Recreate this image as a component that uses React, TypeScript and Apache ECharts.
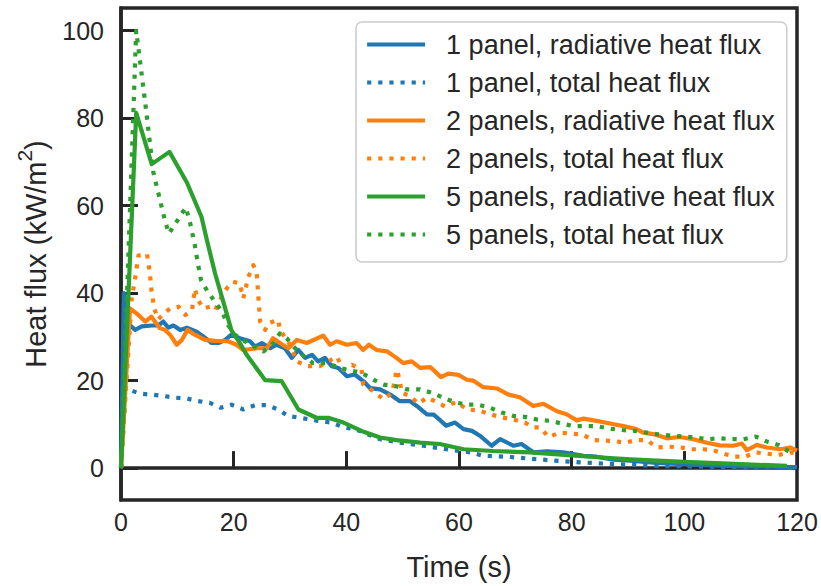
import React, { useEffect, useRef } from "react";
import * as echarts from "echarts";

// Time (s) / heat flux (kW/m²) pairs
const onePanelRadiative: [number, number][] = [
  [0, 0], [0.5, 40], [1.3, 33], [2.5, 31.6], [3.7, 32.4], [5.5, 32.6], [6.6, 32.6], [7.5, 33.5],
  [8.4, 32.1], [9.3, 32.6], [10.5, 31.6], [11.7, 32.1], [13.4, 31.2], [14.6, 30.1], [16.1, 28.6],
  [17.3, 28.6], [18.5, 29.3], [19.6, 30.5], [21.1, 29.7], [22.9, 29], [23.8, 27.8], [25, 28.6],
  [26.5, 27.4], [27.6, 28.2], [29.1, 27.4], [30.3, 25.2], [31.5, 27], [32.7, 25.2], [33.9, 25.9],
  [35, 24.4], [36.2, 25.2], [37.4, 23.3], [38.6, 22.9], [40.1, 21], [41.5, 21.4], [43, 19.9],
  [44.2, 18.3], [46, 18], [47.8, 16.8], [49.5, 15.3], [51.3, 15.3], [52.5, 14.2], [54.3, 12.3],
  [55.5, 12.2], [56.6, 11], [57.7, 9.7], [59.3, 10.4], [60.8, 8.9], [62.3, 8.5], [63.7, 7.4],
  [65.8, 5.1], [67.3, 6.6], [69.7, 5.1], [71.1, 5.5], [73.2, 3.6], [75.6, 3.8], [78.5, 3.6],
  [82.1, 2.8], [84.4, 2.6], [87.4, 1.9], [90.4, 1.7], [95, 1.2], [100, 0.9], [105, 0.6],
  [110, 0.4], [115, 0.3], [120, 0.2],
];

const onePanelTotal: [number, number][] = [
  [0, 0], [0.8, 18.5], [1.3, 18], [3.4, 17], [5.4, 16.8], [7.5, 16.5], [9.6, 16.1], [11.7, 15.9],
  [13.7, 15.3], [15.8, 14.9], [17.7, 13.8], [19.6, 14.5], [21.7, 13.4], [23.8, 14.4], [25.9, 14.4],
  [27.9, 13.4], [29.7, 11.9], [31.8, 11.5], [35, 10.8], [37.4, 10.4], [39.5, 9.3], [41.5, 8.9],
  [43.5, 7.9], [46, 6.6], [49.5, 5.8], [53.7, 5.1], [57.8, 4.3], [62, 3.6], [64.3, 2.8],
  [68.5, 2.6], [70.2, 2.4], [77, 1.7], [81.5, 1.3], [88, 0.9], [94.5, 0.5], [101, 0.4],
  [108, 0.2], [120, 0.1],
];

const twoPanelsRadiative: [number, number][] = [
  [0, 0], [1.6, 36.5], [3.1, 35], [4.3, 33.5], [5.4, 34.6], [6.9, 32], [7.8, 31.6], [8.7, 30.5],
  [9.9, 28.2], [10.8, 29.3], [11.8, 31.6], [13.1, 30.5], [14.9, 29.3], [16.7, 29.1], [19, 29],
  [20.5, 28.2], [21.7, 27], [24.1, 27.4], [25.9, 27.4], [27, 29.7], [28.2, 28.6], [29.7, 27.4],
  [31.2, 29.3], [33, 28.6], [35.9, 30.3], [37.1, 28.2], [38.3, 29], [40.1, 28.2], [41.8, 28.6],
  [43, 27], [44, 28.2], [45.4, 27], [47.2, 26.7], [48.9, 25.2], [50.1, 24], [51.6, 24.4],
  [53.1, 22.9], [54.9, 23.1], [56.8, 20.8], [58.1, 21.6], [59.9, 21.3], [61.4, 20.2], [62.5, 20],
  [64.3, 18.5], [66.7, 18.2], [68.8, 16.8], [70.8, 16.2], [73.2, 14.2], [75, 14.7], [77.4, 13],
  [79.1, 12.3], [80.9, 10.9], [82.1, 11.3], [84.4, 10.8], [86.8, 10.2], [89.2, 9.6], [91.5, 8.9],
  [92.7, 8.1], [94.8, 7.7], [96.9, 6.8], [99.2, 7.1], [101.6, 6.6], [104, 5.8], [106.3, 5.2],
  [108.7, 5.1], [110.2, 5.6], [111.1, 4.1], [112.9, 5.3], [114.6, 4.7], [117, 4.3], [118.8, 4.7],
  [120, 4.0],
];

const twoPanelsTotal: [number, number][] = [
  [0, 0], [1.9, 38.8], [2.5, 43.3], [3.1, 48.6], [4.6, 49], [5.1, 44.9], [5.4, 40.7], [5.9, 36.5],
  [6.6, 34], [7.8, 35.5], [8.7, 36.5], [10.2, 36.9], [11.4, 35], [12.6, 36.1], [13.1, 41],
  [13.7, 38.4], [14.6, 36.5], [15.8, 36.9], [16.7, 36.1], [17.3, 37.7], [18.2, 40], [19, 41.5],
  [19.9, 42.6], [21.1, 42.2], [21.7, 38.8], [22.6, 43.7], [23.5, 46.4], [24.1, 44.5], [24.4, 38.8],
  [24.7, 33.5], [25.6, 31.6], [26.1, 33.1], [27.9, 33.9], [28.2, 31.6], [30, 28.2], [31.2, 24.4],
  [33, 23.3], [35.3, 23.3], [38.3, 25.5], [39.5, 22.5], [41, 23.6], [42.7, 22.5], [43, 19.1],
  [44.8, 17.6], [46.6, 15.7], [48.1, 17.2], [48.6, 19.9], [48.9, 22.5], [49.5, 20.2], [49.8, 17.2],
  [51.3, 16.5], [52.8, 14.7], [54.3, 16.1], [55.7, 15.3], [57.5, 14.1], [59.6, 15.1], [61.4, 13.4],
  [63.5, 13.2], [65.5, 12.3], [67.6, 11.6], [69.7, 11.1], [71.7, 10.4], [73.2, 9.3], [74.4, 9.3],
  [75.9, 7.1], [77.9, 8.1], [79.7, 7.9], [81.8, 7.7], [83.9, 6.4], [87.4, 6.2], [89.5, 5.8],
  [91.5, 6.4], [93.4, 6.4], [95.1, 4.7], [97.2, 4.9], [99.4, 4.7], [101.3, 4.3], [103.4, 4.3],
  [105.1, 4.1], [106.9, 3.3], [109, 2.6], [110.8, 2.6], [112.6, 3.6], [114.6, 3.3], [116.7, 3.0],
  [118.8, 3.6], [120, 3.3],
];

const fivePanelsRadiative: [number, number][] = [
  [0, 0], [2.7, 81.2], [5.45, 69.5], [8.6, 72.3], [11.7, 65.3], [14.3, 57.4], [15.2, 52.4],
  [16.7, 44.5], [18.5, 36.5], [19.6, 31.5], [21, 28.8], [22.3, 25.9], [25.6, 20.1], [28.5, 19.9],
  [31.5, 13.4], [34.7, 11.5], [36.8, 11.5], [39.5, 10.4], [42.7, 8.5], [46, 7], [48.9, 6.4],
  [53.1, 5.8], [56.6, 5.5], [60.8, 4.3], [66, 3.9], [72.6, 3.6], [80, 2.9], [86.8, 2.3],
  [90.4, 2.0], [100, 1.4], [110, 0.9], [118.2, 0.5],
];

const fivePanelsTotal: [number, number][] = [
  [0, 0], [2.7, 100], [4.3, 83.5], [4.85, 77.4], [5.75, 67.6], [6.6, 63], [7.8, 56.6], [8.5, 53.6],
  [9.6, 55.8], [11.5, 59.6], [12.25, 56.2], [13.1, 51], [13.7, 46.4], [14.2, 43], [15.4, 40.3],
  [16.7, 38], [17.9, 35.8], [19, 32.7], [20.2, 30.5], [21.1, 29.7], [23, 28.2], [25.3, 26.7],
  [27, 28.5], [28.2, 30.8], [29.4, 29.7], [30.9, 27.4], [32.5, 25.5], [34.1, 24], [36.5, 24],
  [38.9, 22.9], [40.8, 22.3], [42.7, 21.8], [44.8, 20.2], [46.6, 19.1], [48.9, 18.7], [50.7, 18],
  [53.1, 18], [55.2, 17.2], [57.2, 16.1], [59.3, 15], [61.4, 14.5], [63.4, 14.5], [65.5, 13.8],
  [67.6, 12.7], [69.7, 11.9], [71.7, 11.7], [73.8, 11.1], [76.2, 10.8], [78.2, 10.2], [80.3, 9.6],
  [82.4, 9.6], [84.4, 9.6], [86.8, 9.0], [89, 8.7], [91.2, 8.5], [93.3, 8.1], [95.4, 7.7],
  [97.6, 7.4], [99.8, 7.2], [102, 7.0], [104.1, 6.6], [106.3, 6.8], [108.4, 6.6], [110.5, 6.6],
  [112.7, 7.2], [114.6, 6.1], [116.7, 5.3], [118.8, 3.6],
];

const seriesNames = [
  "1 panel, radiative heat flux",
  "1 panel, total heat flux",
  "2 panels, radiative heat flux",
  "2 panels, total heat flux",
  "5 panels, radiative heat flux",
  "5 panels, total heat flux",
];
const seriesData = [
  onePanelRadiative, onePanelTotal, twoPanelsRadiative, twoPanelsTotal,
  fivePanelsRadiative, fivePanelsTotal,
];
const seriesColors = ["#1f77b4", "#1f77b4", "#ff7f0e", "#ff7f0e", "#2ca02c", "#2ca02c"];
const seriesDotted = [false, true, false, true, false, true];

const xTicks = [0, 20, 40, 60, 80, 100, 120];
const yTicks = [0, 20, 40, 60, 80, 100];

const FONT = "'Liberation Sans', Arial, Helvetica, sans-serif";
const INK = "#262626";

export default function App() {
  const ref = useRef<HTMLDivElement>(null);
  useEffect(() => {
    if (!ref.current) return;
    const chart = echarts.init(ref.current, undefined, { renderer: "svg" });
    const LW = 4.2;
    chart.setOption({
      animation: false,
      backgroundColor: "#ffffff",
      textStyle: { fontFamily: FONT },
      grid: {
        left: 121, right: 24, top: 8, bottom: 83,
        show: true, borderColor: INK, borderWidth: 3.5, backgroundColor: "transparent",
      },
      legend: {
        orient: "vertical",
        left: 356,
        top: 22,
        padding: [9, 12, 14, 9],
        itemWidth: 58,
        itemHeight: 14,
        itemGap: 11,
        backgroundColor: "rgba(255,255,255,0.8)",
        borderColor: "#cccccc",
        borderWidth: 1.5,
        borderRadius: 6,
        data: seriesNames,
        itemStyle: { opacity: 0 },
        lineStyle: { width: LW },
        textStyle: {
          fontFamily: FONT, fontSize: 27, color: INK, lineHeight: 27,
          padding: [0, 0, 0, 16],
        },
      },
      xAxis: {
        type: "value",
        min: 0, max: 120, interval: 20,
        name: "Time (s)",
        nameLocation: "middle",
        nameGap: 52,
        nameTextStyle: { fontFamily: FONT, fontSize: 29, color: INK },
        axisLine: { show: true, lineStyle: { color: INK, width: 3.5 } },
        axisTick: { show: true, inside: true, length: 17, lineStyle: { color: INK, width: 3 }, customValues: xTicks },
        axisLabel: { fontFamily: FONT, fontSize: 25, color: INK, margin: 9, customValues: xTicks, showMinLabel: true, showMaxLabel: true },
        splitLine: { show: false },
      },
      yAxis: {
        type: "value",
        min: -7.3, max: 105.2,
        name: "{a|Heat flux (kW/m}{s|2}{a|)}",
        nameLocation: "middle",
        nameGap: 71,
        nameRotate: 90,
        nameTextStyle: {
          fontFamily: FONT, fontSize: 29, color: INK,
          rich: {
            a: { fontFamily: FONT, fontSize: 29, color: INK, lineHeight: 36, verticalAlign: "bottom" },
            s: { fontFamily: FONT, fontSize: 21, color: INK, lineHeight: 21, verticalAlign: "top" },
          },
        },
        axisLine: { show: true, lineStyle: { color: INK, width: 3.5 } },
        axisTick: { show: true, inside: true, length: 17, lineStyle: { color: INK, width: 3 }, customValues: yTicks },
        axisLabel: { fontFamily: FONT, fontSize: 25, color: INK, margin: 17, customValues: yTicks },
        splitLine: { show: false },
      },
      series: seriesNames.map((name, i) => ({
        name,
        type: "line",
        data: seriesData[i],
        symbol: "none",
        showSymbol: false,
        clip: true,
        color: seriesColors[i],
        lineStyle: {
          color: seriesColors[i],
          width: LW,
          type: seriesDotted[i] ? [LW, LW * 1.65] : "solid",
          cap: "butt",
          join: "round",
        },
        emphasis: { disabled: true },
      })),
    });
    return () => chart.dispose();
  }, []);
  return (
    <div
      ref={ref}
      style={{ position: "fixed", left: 0, top: 0, width: 821, height: 586 }}
    />
  );
}
